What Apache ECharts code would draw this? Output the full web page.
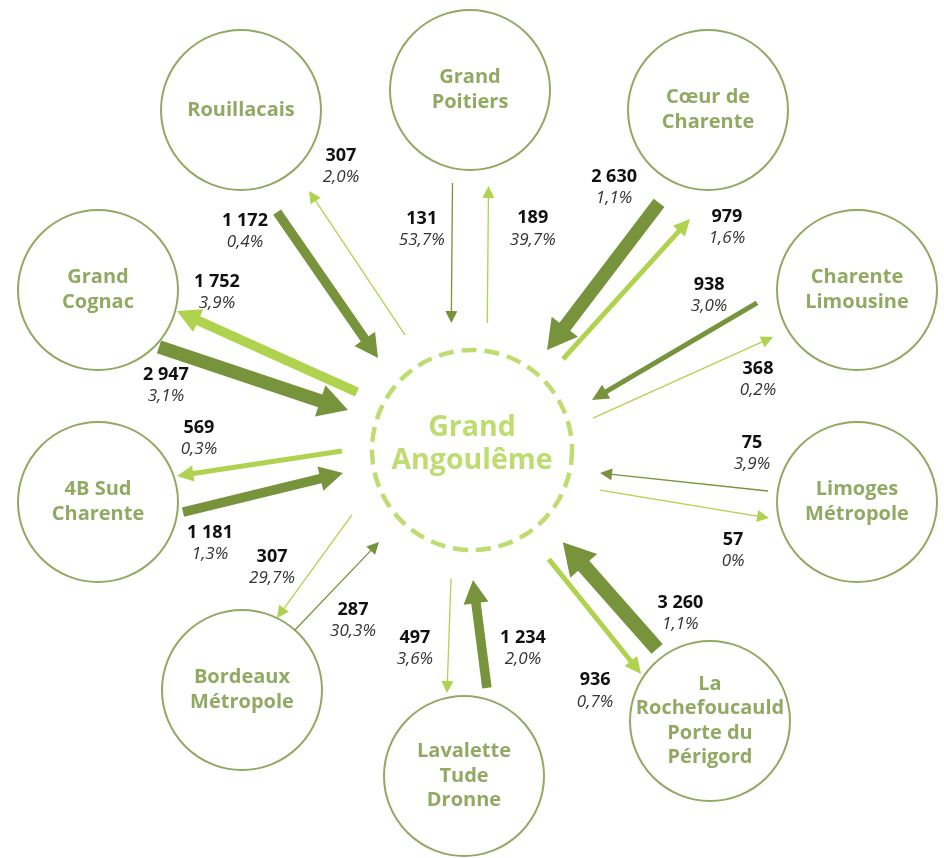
<!DOCTYPE html>
<html lang="fr">
<head>
    <meta charset="utf-8" />
    <title>Flux Grand Angoulême</title>
    <script type="text/javascript" src="https://cdn.jsdelivr.net/npm/echarts@6/dist/echarts.min.js"></script>
    <style type="text/css">
        html, body { margin: 0; padding: 0; background: #fff; }
        #main { width: 944px; height: 858px; }
    </style>
</head>
<body>
    <div id="main"></div>
    <script type="text/javascript">
        // data
        var centerName = 'Grand\nAngoulême';
        var territories = ['Rouillacais', 'Grand\nPoitiers', 'Cœur de\nCharente', 'Charente\nLimousine', 'Limoges\nMétropole',
            'La\nRochefoucauld\nPorte du\nPérigord', 'Lavalette\nTude\nDronne', 'Bordeaux\nMétropole', '4B Sud\nCharente', 'Grand\nCognac'];
        // flows towards Grand Angoulême
        var inValues = [1172, 131, 2630, 938, 75, 3260, 1234, 287, 1181, 2947];
        var inShares = ['0,4%', '53,7%', '1,1%', '3,0%', '3,9%', '1,1%', '2,0%', '30,3%', '1,3%', '3,1%'];
        // flows from Grand Angoulême
        var outValues = [307, 189, 979, 368, 57, 936, 497, 307, 569, 1752];
        var outShares = ['2,0%', '39,7%', '1,6%', '0,2%', '0%', '0,7%', '3,6%', '29,7%', '0,3%', '3,9%'];

        // layout (frame units = pixels)
        var centerPos = [472, 450];
        var hubPos = [472, 457]; // point the arrows are aimed at
        var nodePos = [[241, 110], [470, 90], [708, 110], [857, 290], [857, 502], [710, 721], [464, 776], [242, 690], [98, 502], [98, 290]];
        // arrow ends along each node->hub axis: [dist from node, side offset, dist from hub, side offset]
        var inArrow = [[105, 26.5, 134.5, 23.4], [93, 18, 134, 20], [104.4, -11.8, 130.7, -1.9], [96.9, 27.9, 132.7, 4.5],
            [89.7, 0.6, 129, -1.1], [89, 9, 124.1, 10.4], [88.6, 20.7, 123, 4.1], [79.9, -4.5, 125.8, -6.5],
            [83.2, 20.1, 130, 0.5], [78.9, 27.1, 132.4, 7.7]];
        var outArrow = [[105.1, -11.7, 138.6, -11.9], [96, -18, 134, -16], [100.2, -46.4, 132.1, -20.2], [95.7, -9.7, 126.5, -12.4],
            [85.5, -26.1, 130.9, -18], [81.1, -19.6, 127.3, -11.4], [82.6, -19.1, 122, -17.9], [75.8, -25.7, 125.6, -44.7],
            [81.5, -16.4, 128.4, -21.5], [80.7, -13, 131.5, -12.4]];
        // label centre along the same axis: [dist from node, side offset]
        var inLabel = [[102.9, 63.7], [139, 49], [116.9, 34.1], [137.7, 54.3], [110, 36.5], [100.1, 50.3], [129.5, 55.7], [127.8, 29.8], [106.3, 54.1], [100.8, 59]];
        var outLabel = [[102, -52.2], [139, -62], [86.1, -81.5], [126.2, -42.2], [117.5, -62.1], [99.4, -65.1], [126.7, -52.3], [108.6, -65], [107.9, -51.5], [109.6, -46.2]];

        var darkGreen = '#77933c';
        var lightGreen = '#afd34e';

        var arrowRows = [];
        for (var i = 0; i < territories.length; i++) {
            arrowRows.push([i, 0, inValues[i], inShares[i]]);
            arrowRows.push([i, 1, outValues[i], outShares[i]]);
        }

        function arrowWidth(v) {
            if (v < 500) return 1.3;
            if (v < 1000) return 5;
            if (v < 2000) return 9.5;
            return v > 3000 ? 15 : 13.5;
        }

        function renderArrow(params, api) {
            var row = arrowRows[params.dataIndex];
            var i = row[0], dir = row[1];
            var n = api.coord(nodePos[i]);
            var c = api.coord(hubPos);
            var dx = c[0] - n[0], dy = c[1] - n[1];
            var len = Math.sqrt(dx * dx + dy * dy);
            var ux = dx / len, uy = dy / len;
            var rx = -uy, ry = ux; // right-hand side, looking towards the hub
            var g = dir === 0 ? inArrow[i] : outArrow[i];
            var outer = [n[0] + ux * g[0] + rx * g[1], n[1] + uy * g[0] + ry * g[1]];
            var inner = [c[0] - ux * g[2] + rx * g[3], c[1] - uy * g[2] + ry * g[3]];
            var p0 = dir === 0 ? outer : inner;
            var p1 = dir === 0 ? inner : outer;
            var ddx = p1[0] - p0[0], ddy = p1[1] - p0[1];
            var dl = Math.sqrt(ddx * ddx + ddy * ddy);
            var ex = ddx / dl, ey = ddy / dl;
            var nx = -ey, ny = ex;
            var w = arrowWidth(row[2]);
            var hw = Math.max(12, 2 * w + 6), hl = Math.max(12, w * 1.5 + 9);
            var bx = p1[0] - ex * hl, by = p1[1] - ey * hl;
            var pts = [
                [p0[0] + nx * w / 2, p0[1] + ny * w / 2],
                [bx + nx * w / 2, by + ny * w / 2],
                [bx + nx * hw / 2, by + ny * hw / 2],
                p1,
                [bx - nx * hw / 2, by - ny * hw / 2],
                [bx - nx * w / 2, by - ny * w / 2],
                [p0[0] - nx * w / 2, p0[1] - ny * w / 2]
            ];
            var lp = dir === 0 ? inLabel[i] : outLabel[i];
            var lx = n[0] + ux * lp[0] + rx * lp[1];
            var ly = n[1] + uy * lp[0] + ry * lp[1];
            return {
                type: 'group',
                children: [{
                    type: 'polygon',
                    shape: { points: pts },
                    style: { fill: dir === 0 ? darkGreen : lightGreen }
                }, {
                    type: 'text',
                    x: lx, y: ly - 10.5,
                    style: {
                        text: String(row[2]).replace(/\B(?=(\d{3})+$)/g, ' '),
                        align: 'center', verticalAlign: 'middle',
                        font: 'bold 18px "Open Sans", sans-serif', fill: '#111'
                    }
                }, {
                    type: 'text',
                    x: lx, y: ly + 11,
                    style: {
                        text: row[3],
                        align: 'center', verticalAlign: 'middle',
                        font: 'italic 17px "Open Sans", sans-serif', fill: '#333'
                    }
                }]
            };
        }

        var nodeData = [];
        for (var j = 0; j < territories.length; j++) {
            nodeData.push({ value: nodePos[j], name: territories[j] });
        }

        var myChart = echarts.init(document.getElementById('main'));
        var option = {
            animation: false,
            grid: { left: 0, right: 0, top: 0, bottom: 0 },
            xAxis: { type: 'value', min: 0, max: 944, show: false },
            yAxis: { type: 'value', min: 0, max: 858, inverse: true, show: false },
            series: [{
                type: 'custom',
                renderItem: renderArrow,
                clip: false,
                data: arrowRows.map(function (r) { return [r[0], r[1]]; }),
                z: 2
            }, {
                type: 'scatter',
                symbol: 'circle',
                symbolSize: 160,
                itemStyle: { color: '#fff', borderColor: darkGreen, borderWidth: 2 },
                label: {
                    show: true,
                    position: 'inside',
                    formatter: '{b}',
                    fontFamily: '"Open Sans", sans-serif',
                    fontWeight: 'bold',
                    fontSize: 20,
                    lineHeight: 24.5,
                    color: darkGreen
                },
                emphasis: { disabled: true },
                data: nodeData,
                z: 3
            }, {
                type: 'scatter',
                symbol: 'circle',
                symbolSize: 200,
                itemStyle: { color: '#fff', borderColor: lightGreen, borderWidth: 4.5, borderType: [15, 8] },
                label: {
                    show: true,
                    position: 'inside',
                    offset: [0, -6],
                    formatter: '{b}',
                    fontFamily: '"Open Sans", sans-serif',
                    fontWeight: 'bold',
                    fontSize: 28.5,
                    lineHeight: 33,
                    color: lightGreen
                },
                emphasis: { disabled: true },
                data: [{ value: centerPos, name: centerName }],
                z: 3
            }]
        };
        myChart.setOption(option, true);
    </script>
</body>
</html>
